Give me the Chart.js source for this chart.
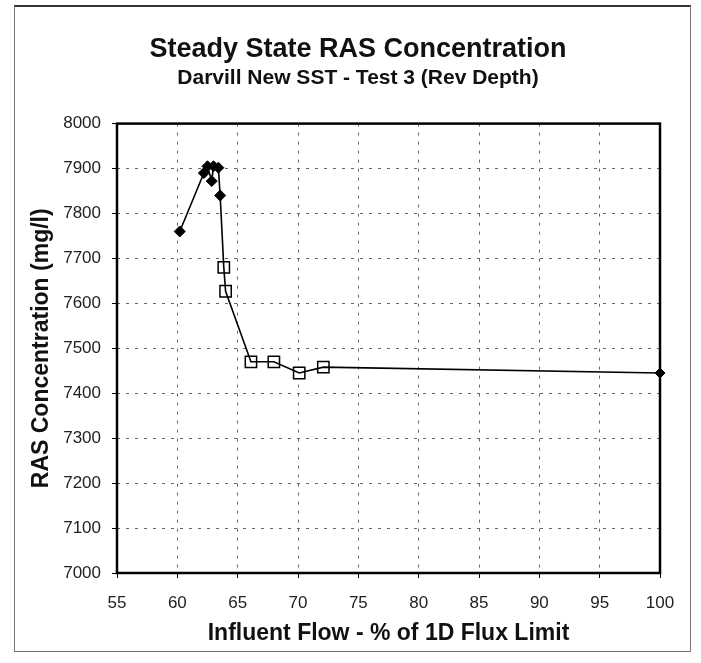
<!DOCTYPE html>
<html>
<head>
<meta charset="utf-8">
<script src="https://cdn.jsdelivr.net/npm/chart.js@4.4.1/dist/chart.umd.min.js"></script>
<style>
  body { margin: 0; background: #fff; }
  #wrap { position: relative; width: 701px; height: 663px; }
  #frame { position: absolute; left: 14px; top: 5px; width: 675px; height: 644px; border: 1px solid #777; border-top: 2px solid #333; }
  #ras { position: absolute; left: 0; top: 0; }
</style>
</head>
<body>
<div id="wrap">
  <div id="frame"></div>
  <canvas id="ras" width="701" height="663"></canvas>
</div>
<script>
  // Steady state runs near the peak (filled diamonds)
  var peakFlow = [60.2, 62.2, 62.5, 62.85, 63.0, 63.4, 63.55];
  var peakRas  = [7760, 7890, 7905, 7872, 7905, 7902, 7840];

  // Runs past the failure point (open squares)
  var failFlow = [63.85, 64.0, 66.1, 68.0, 70.1, 72.1];
  var failRas  = [7680, 7627, 7470, 7470, 7445, 7458];

  // Run at the full 1D flux limit
  var limitFlow = [100];
  var limitRas  = [7445];

  var xTicks = [55, 100, 5];       // min, max, step
  var yTicks = [7000, 8000, 100];

  var fontFamily = '"Liberation Sans", Arial, sans-serif';

  function toPoints(xs, ys) {
    return xs.map(function (x, i) { return { x: x, y: ys[i] }; });
  }

  // Whole run sequence joined by one line
  var allPoints = toPoints(peakFlow.concat(failFlow, limitFlow), peakRas.concat(failRas, limitRas));

  // Solid frame round the plot area
  const boxBorder = {
    id: 'boxBorder',
    beforeDatasetsDraw(chart) {
      const a = chart.chartArea;
      const ctx = chart.ctx;
      ctx.save();
      ctx.strokeStyle = '#000';
      ctx.lineWidth = 2.5;
      ctx.strokeRect(a.left, a.top, a.right - a.left, a.bottom - a.top);
      ctx.restore();
    }
  };

  var data = {
    datasets: [
      {
        label: 'line',
        data: allPoints,
        showLine: true,
        borderColor: '#000',
        borderWidth: 1.6,
        pointRadius: 0,
        clip: false
      },
      {
        label: 'peak',
        data: toPoints(peakFlow, peakRas),
        pointStyle: 'rectRot',
        pointRadius: 5.5,
        backgroundColor: '#000',
        borderColor: '#000',
        borderWidth: 1,
        clip: false
      },
      {
        label: 'fail',
        data: toPoints(failFlow, failRas),
        pointStyle: 'rect',
        pointRadius: 8,
        backgroundColor: '#fff',
        borderColor: '#000',
        borderWidth: 1.5,
        clip: false
      },
      {
        label: 'limit',
        data: toPoints(limitFlow, limitRas),
        pointStyle: 'rectRot',
        pointRadius: 5,
        backgroundColor: '#000',
        borderColor: '#000',
        borderWidth: 1,
        clip: false
      }
    ]
  };

  var gridOpts = {
    color: '#666',
    lineWidth: 1,
    tickColor: '#000',
    tickLength: 5,
    tickBorderDash: []
  };

  var options = {
    responsive: false,
    animation: false,
    layout: { padding: { left: 25, right: 10, top: 21, bottom: 10 } },
    plugins: {
      legend: { display: false },
      tooltip: { enabled: false },
      title: {
        display: true,
        text: 'Steady State RAS Concentration',
        color: '#111',
        font: { family: fontFamily, size: 27, weight: 'bold' },
        padding: { top: 12, bottom: 0 }
      },
      subtitle: {
        display: true,
        text: 'Darvill New SST - Test 3 (Rev Depth)',
        color: '#111',
        font: { family: fontFamily, size: 21, weight: 'bold' },
        padding: { top: 0, bottom: 33 }
      }
    },
    scales: {
      x: {
        type: 'linear',
        min: xTicks[0],
        max: xTicks[1],
        grid: gridOpts,
        border: { display: false, dash: [3, 6] },
        ticks: {
          stepSize: xTicks[2],
          color: '#222',
          padding: 15,
          maxRotation: 0,
          font: { family: fontFamily, size: 17 }
        },
        title: {
          display: true,
          text: 'Influent Flow - % of 1D Flux Limit',
          color: '#111',
          font: { family: fontFamily, size: 23, weight: 'bold' },
          padding: { top: 0, bottom: 6 }
        },
        afterFit(axis) { axis.height = 80; }
      },
      y: {
        type: 'linear',
        min: yTicks[0],
        max: yTicks[1],
        grid: gridOpts,
        border: { display: false, dash: [3, 6] },
        ticks: {
          stepSize: yTicks[2],
          color: '#222',
          padding: 11,
          font: { family: fontFamily, size: 17 },
          callback: function (v) { return String(v); }
        },
        title: {
          display: true,
          text: 'RAS Concentration (mg/l)',
          color: '#111',
          font: { family: fontFamily, size: 23, weight: 'bold' },
          padding: { top: 3, bottom: 0 }
        },
        afterFit(axis) { axis.width = 92; }
      },
      // empty strip on the right, keeps room between plot and frame
      gap: {
        type: 'linear',
        position: 'right',
        grid: { display: false },
        border: { display: false },
        ticks: { display: false },
        afterFit(axis) { axis.width = 31; }
      }
    }
  };

  var ctx = document.getElementById('ras').getContext('2d');
  var rasChart = new Chart(ctx, { type: 'scatter', data: data, options: options, plugins: [boxBorder] });
</script>
</body>
</html>
